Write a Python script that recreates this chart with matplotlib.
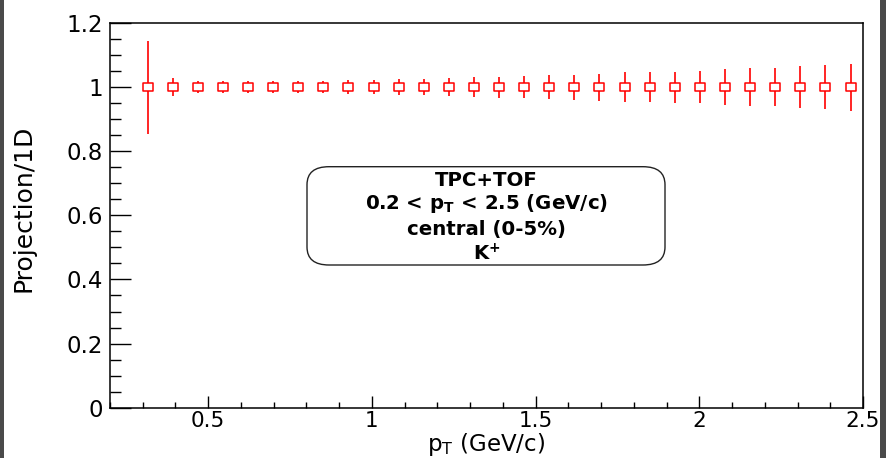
import matplotlib
matplotlib.use("Agg")
import matplotlib.pyplot as plt
from matplotlib.ticker import MultipleLocator, FuncFormatter
from matplotlib.patches import FancyBboxPatch, Rectangle
from matplotlib.path import Path

# Ratio of the projected spectrum to the 1D spectrum, per pT bin
pt = [0.315, 0.392, 0.468, 0.545, 0.622, 0.698, 0.775, 0.852, 0.928, 1.005,
      1.082, 1.158, 1.235, 1.312, 1.388, 1.465, 1.542, 1.618, 1.695, 1.772,
      1.848, 1.925, 2.002, 2.078, 2.155, 2.232, 2.308, 2.385, 2.462]
ratio = [1.0] * len(pt)
ratio_err = [0.145, 0.028, 0.019, 0.019, 0.018, 0.018, 0.018, 0.019, 0.021, 0.023,
             0.024, 0.026, 0.027, 0.031, 0.033, 0.034, 0.038, 0.039, 0.042, 0.046,
             0.047, 0.048, 0.050, 0.056, 0.059, 0.060, 0.065, 0.069, 0.073]

x_ticks = [0.5, 1.0, 1.5, 2.0, 2.5]
y_ticks = [0.0, 0.2, 0.4, 0.6, 0.8, 1.0, 1.2]

info_lines = ["TPC+TOF",
              r"0.2 < $\mathbf{p}_\mathbf{T}$ < 2.5 (GeV/c)",
              "central (0-5%)",
              r"K$^{\mathbf{+}}$"]

plt.rcParams["font.family"] = ["DejaVu Sans"]
plt.rcParams["mathtext.fontset"] = "dejavusans"
plt.rcParams["mathtext.default"] = "regular"

W, H = 886, 458
fig = plt.figure(figsize=(W / 100, H / 100), dpi=100)
fig.patch.set_facecolor("white")

ax_l, ax_r, ax_t, ax_b = 110, 863, 23, 407.7
ax = fig.add_axes([ax_l / W, 1 - ax_b / H, (ax_r - ax_l) / W, (ax_b - ax_t) / H])

# open rectangular marker (slightly wider than tall)
box_marker = Path([(-1, -0.72), (1, -0.72), (1, 0.72), (-1, 0.72), (-1, -0.72)],
                  [Path.MOVETO, Path.LINETO, Path.LINETO, Path.LINETO, Path.CLOSEPOLY])

ax.errorbar(pt, ratio, yerr=ratio_err, fmt="none", ecolor="#ff0000",
            elinewidth=1.2, capsize=0, zorder=2)
ax.plot(pt, ratio, linestyle="none", marker=box_marker, markersize=7.6,
        markerfacecolor="white", markeredgecolor="#ff0000",
        markeredgewidth=1.1, zorder=3)

ax.set_xlim(0.2, 2.5)
ax.set_ylim(0.0, 1.2)
ax.set_xticks(x_ticks)
ax.set_yticks(y_ticks)
ax.xaxis.set_minor_locator(MultipleLocator(0.1))
ax.yaxis.set_minor_locator(MultipleLocator(0.05))
fmt = FuncFormatter(lambda v, p: "%g" % round(v, 3))
ax.xaxis.set_major_formatter(fmt)
ax.yaxis.set_major_formatter(fmt)

px = 72 / 100.0
ax.tick_params(axis="x", which="major", direction="in", length=12 * px, width=1,
               labelsize=15.5, pad=2.5, top=False)
ax.tick_params(axis="x", which="minor", direction="in", length=6 * px, width=1, top=False)
ax.tick_params(axis="y", which="major", direction="in", length=21.5 * px, width=1,
               labelsize=16.5, pad=5, right=False)
ax.tick_params(axis="y", which="minor", direction="in", length=11 * px, width=1, right=False)
for s in ax.spines.values():
    s.set_linewidth(1.1)
    s.set_color("black")

ax.set_xlabel(r"$p_{T}$ (GeV/c)", fontsize=16.5)
ax.xaxis.set_label_coords(0.5, (ax_b - 431.5) / (ax_b - ax_t))
ax.xaxis.label.set_va("top")
ax.set_ylabel("Projection/1D", fontsize=18)
ax.yaxis.label.set_va("center")
ax.yaxis.set_label_coords((24 - ax_l) / (ax_r - ax_l), (ax_b - 208.5) / (ax_b - ax_t))

# info pave
ax_w, ax_h = ax_r - ax_l, ax_b - ax_t
bx0, bx1, by_top, by_bot = 307, 665, 166.7, 265
pave = FancyBboxPatch(((bx0 - ax_l) / ax_w, (ax_b - by_bot) / ax_h),
                      (bx1 - bx0) / ax_w, (by_bot - by_top) / ax_h,
                      boxstyle="round,pad=0,rounding_size=%f" % (22 / ax_w),
                      mutation_aspect=(18 / ax_h) / (22 / ax_w),
                      transform=ax.transAxes, facecolor="white",
                      edgecolor="#222222", linewidth=1.0, zorder=4)
ax.add_patch(pave)
baselines = [186.0, 208.5, 235.0, 260.0]
for txt, yb in zip(info_lines, baselines):
    ax.text(0.5, (ax_b - yb) / ax_h, txt, transform=ax.transAxes, ha="center",
            va="baseline", fontsize=14.2, fontweight="bold", zorder=5)

# window frame strips at the edges
fig.patches.append(Rectangle((0, 0), 4 / W, 1, transform=fig.transFigure,
                             facecolor="#4a4a4a", edgecolor="none"))
fig.patches.append(Rectangle((880 / W, 0), 6 / W, 1, transform=fig.transFigure,
                             facecolor="#4a4a4a", edgecolor="none"))

fig.savefig("out.png", dpi=100)
